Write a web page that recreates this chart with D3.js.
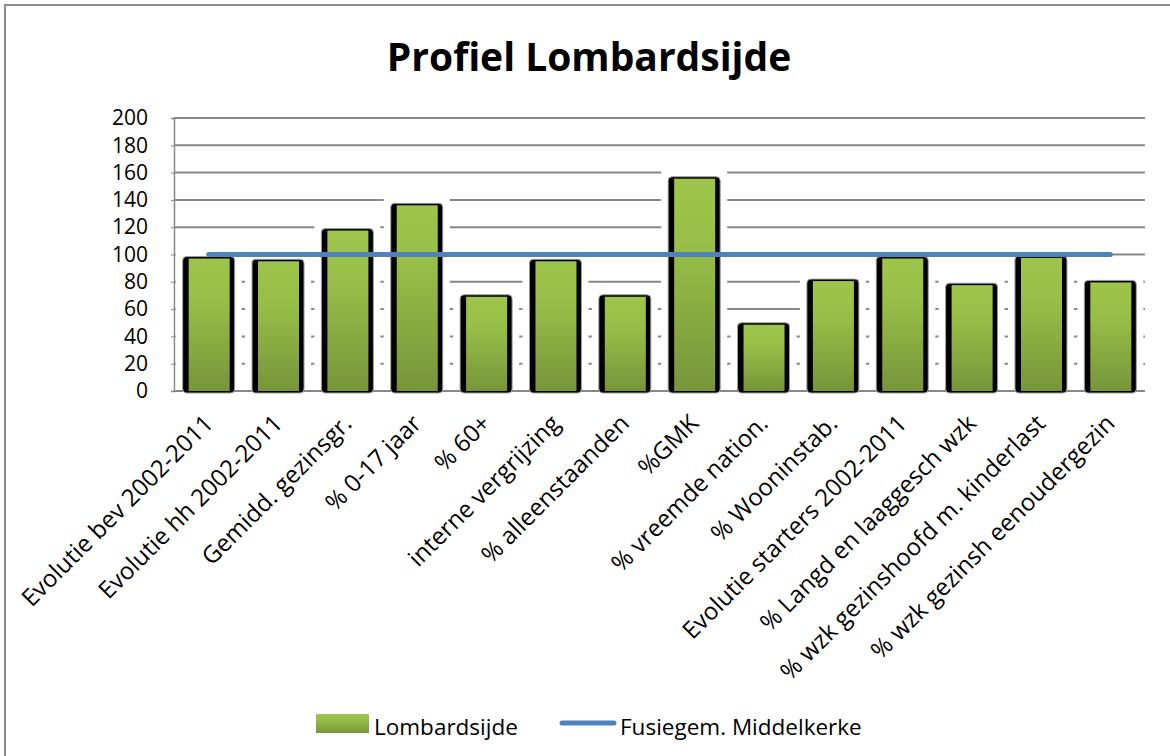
<!DOCTYPE html>
<html>
<head>
<meta charset="utf-8">
<script src="https://cdn.jsdelivr.net/npm/d3@7"></script>
<style>
  body { margin: 0; background: #fff; }
  svg { display: block; font-family: "Open Sans", sans-serif; }
</style>
</head>
<body>
<svg id="chart" width="1170" height="756"></svg>
<script>
// chart data
var categories = [
	"Evolutie bev 2002-2011", "Evolutie hh 2002-2011", "Gemidd. gezinsgr.", "% 0-17 jaar",
	"% 60+", "interne vergrijzing", "% alleenstaanden", "%GMK", "% vreemde nation.",
	"% Wooninstab.", "Evolutie starters 2002-2011", "% Langd en laaggesch wzk",
	"% wzk gezinshoofd m. kinderlast", "% wzk gezinsh eenoudergezin"
];
var lombardsijde = [98.5, 96.5, 119, 137.5, 70.5, 96.5, 70.5, 157, 50, 82, 98.5, 79, 99, 81];
var middelkerke = [100, 100, 100, 100, 100, 100, 100, 100, 100, 100, 100, 100, 100, 100];
var yTicks = [0, 20, 40, 60, 80, 100, 120, 140, 160, 180, 200];
var seriesNames = ["Lombardsijde", "Fusiegem. Middelkerke"];

var svg = d3.select("#chart");

/** gradient for the bars */
var defs = svg.append("defs");
var grad = defs.append("linearGradient").attr("id", "barGrad")
	.attr("x1", 0).attr("y1", 0).attr("x2", 0).attr("y2", 1);
grad.append("stop").attr("offset", "0%").attr("stop-color", "#9dc54b");
grad.append("stop").attr("offset", "30%").attr("stop-color", "#98c048");
grad.append("stop").attr("offset", "100%").attr("stop-color", "#76953a");

// outer chart border
svg.append("rect")
	.attr("x", 5).attr("y", 5).attr("width", 1200).attr("height", 800)
	.attr("fill", "none").attr("stroke", "#8c8c8c").attr("stroke-width", 2);

var x = d3.scaleBand().domain(categories).range([174, 1145]).paddingInner(0.25).paddingOuter(0.125);
var y = d3.scaleLinear().domain([0, 200]).range([391, 118]);

// title
svg.append("text")
	.attr("x", 589).attr("y", 71)
	.attr("text-anchor", "middle")
	.attr("font-weight", "bold")
	.attr("font-size", 39)
	.text("Profiel Lombardsijde");

// grid lines
svg.append("g").selectAll("line").data(yTicks.filter(function(d){ return d > 0; })).join("line")
	.attr("x1", 174).attr("x2", 1145)
	.attr("y1", function(d){ return y(d); }).attr("y2", function(d){ return y(d); })
	.attr("stroke", "#878787").attr("stroke-width", 2);

// y axis
var yAxis = svg.append("g").attr("transform", "translate(174,0)")
	.call(d3.axisLeft(y).tickValues(yTicks).tickSize(3).tickPadding(23));
yAxis.select(".domain").attr("stroke", "#878787").attr("stroke-width", 1.5);
yAxis.selectAll(".tick line").attr("stroke", "#878787");
yAxis.selectAll(".tick text")
	.attr("font-family", "'Open Sans', sans-serif")
	.attr("font-size", 21).attr("fill", "#000");

// bottom axis line
svg.append("line")
	.attr("x1", 174).attr("x2", 1145).attr("y1", y(0)).attr("y2", y(0))
	.attr("stroke", "#878787").attr("stroke-width", 2);

// bars : white halo, black shadow, green body
var bars = svg.append("g").selectAll("g").data(lombardsijde).join("g");
bars.append("rect")
	.attr("x", function(d, i){ return x(categories[i]) - 7; })
	.attr("y", function(d){ return y(d) - 6; })
	.attr("width", x.bandwidth() + 14)
	.attr("height", function(d){ return y(0) - y(d) + 5; })
	.attr("fill", "#fff");
bars.append("rect")
	.attr("x", function(d, i){ return x(categories[i]); })
	.attr("y", function(d){ return y(d); })
	.attr("width", x.bandwidth())
	.attr("height", function(d){ return y(0) - y(d) + 2; })
	.attr("rx", 4)
	.attr("fill", "#000").attr("stroke", "#a0a0a0").attr("stroke-width", 1);
bars.append("rect")
	.attr("x", function(d, i){ return x(categories[i]) + 6; })
	.attr("y", function(d){ return y(d) + 2; })
	.attr("width", x.bandwidth() - 11)
	.attr("height", function(d){ return y(0) - y(d) - 2; })
	.attr("fill", "url(#barGrad)");

// reference line
var line = d3.line()
	.x(function(d, i){ return x(categories[i]) + x.bandwidth() / 2; })
	.y(function(d){ return y(d); });
svg.append("path")
	.datum(middelkerke)
	.attr("d", line)
	.attr("fill", "none")
	.attr("stroke", "#4f81bd").attr("stroke-width", 5)
	.attr("stroke-linecap", "round");

// category labels, rotated
svg.append("g").selectAll("text").data(categories).join("text")
	.attr("transform", function(d){
		return "translate(" + (x(d) + x.bandwidth() / 2) + "," + 419 + ") rotate(-45)";
	})
	.attr("text-anchor", "end")
	.attr("dy", "0.35em")
	.attr("font-size", 24)
	.text(function(d){ return d; });

// legend
var legend = svg.append("g");
legend.append("rect")
	.attr("x", 316).attr("y", 714).attr("width", 53).attr("height", 19)
	.attr("fill", "url(#barGrad)");
legend.append("text")
	.attr("x", 374).attr("y", 735).attr("font-size", 22.5)
	.text(seriesNames[0]);
legend.append("line")
	.attr("x1", 562).attr("x2", 614).attr("y1", 723).attr("y2", 723)
	.attr("stroke", "#4f81bd").attr("stroke-width", 5).attr("stroke-linecap", "round");
legend.append("text")
	.attr("x", 620).attr("y", 735).attr("font-size", 22.5)
	.text(seriesNames[1]);
</script>
</body>
</html>
